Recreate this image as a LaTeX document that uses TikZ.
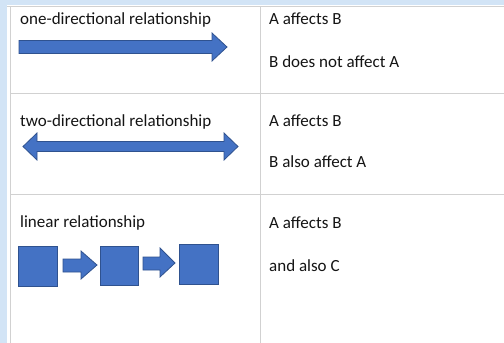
\documentclass[tikz,border=0pt]{standalone}
\usepackage{fontspec}
\setmainfont{Carlito}
\begin{document}
\begin{tikzpicture}[x=1pt,y=-1pt,
  txt/.style={anchor=base west,inner sep=0pt,font=\fontsize{17}{20}\selectfont,text=black!92},
  grid/.style={draw=black!18,line width=1pt},
  blk/.style={fill=bfill,draw=bline,line width=0.8pt,line join=miter}]
\definecolor{bfill}{HTML}{4472C4}
\definecolor{bline}{HTML}{2F528F}
\definecolor{bg}{HTML}{D2E4F6}
\useasboundingbox (0,0) rectangle (504,343);
% background strips
\fill[bg] (0,0) rectangle (504,5);
\fill[bg] (0,0) rectangle (7,343);
\fill[white] (7,5) rectangle (504,343);
% grid
\draw[grid] (7,6) -- (504,6);
\draw[grid] (10.5,6) -- (10.5,343);
\draw[grid] (260.5,6) -- (260.5,343);
\draw[grid] (10.5,93) -- (504,93);
\draw[grid] (10.5,194) -- (504,194);
% texts left
\node[txt] (t1) at (20,24) {one-directional relationship};
\node[txt] (t2) at (20,126) {two-directional relationship};
\node[txt] (t3) at (20,227) {linear relationship};
% texts right
\node[txt] (r1a) at (269,24) {A affects B};
\node[txt] (r1b) at (269,67) {B does not affect A};
\node[txt] (r2a) at (269,126) {A affects B};
\node[txt] (r2b) at (269,167) {B also affect A};
\node[txt] (r3a) at (269,228) {A affects B};
\node[txt] (r3b) at (269,271) {and also C};
% one-directional arrow
\draw[blk] (19,40.5) -- (212,40.5) -- (212,33) -- (227,47) -- (212,61) -- (212,53.5) -- (19,53.5) -- cycle;
% two-directional arrow
\draw[blk] (23,146.5) -- (37,133) -- (37,141.5) -- (224,141.5) -- (224,133) -- (238,146.5) -- (224,160) -- (224,151.5) -- (37,151.5) -- (37,160) -- cycle;
% linear
\node[blk,minimum width=39pt,minimum height=40pt,inner sep=0pt] (s1) at (37.5,266) {};
\node[blk,minimum width=38pt,minimum height=39pt,inner sep=0pt] (s2) at (119,265.5) {};
\node[blk,minimum width=39pt,minimum height=40pt,inner sep=0pt] (s3) at (198.5,264) {};
\draw[blk] (63,259) -- (81,259) -- (81,251) -- (97,265) -- (81,279) -- (81,272) -- (63,272) -- cycle;
\draw[blk] (143,257) -- (160,257) -- (160,248) -- (175,263) -- (160,277) -- (160,270) -- (143,270) -- cycle;
\end{tikzpicture}
\end{document}
